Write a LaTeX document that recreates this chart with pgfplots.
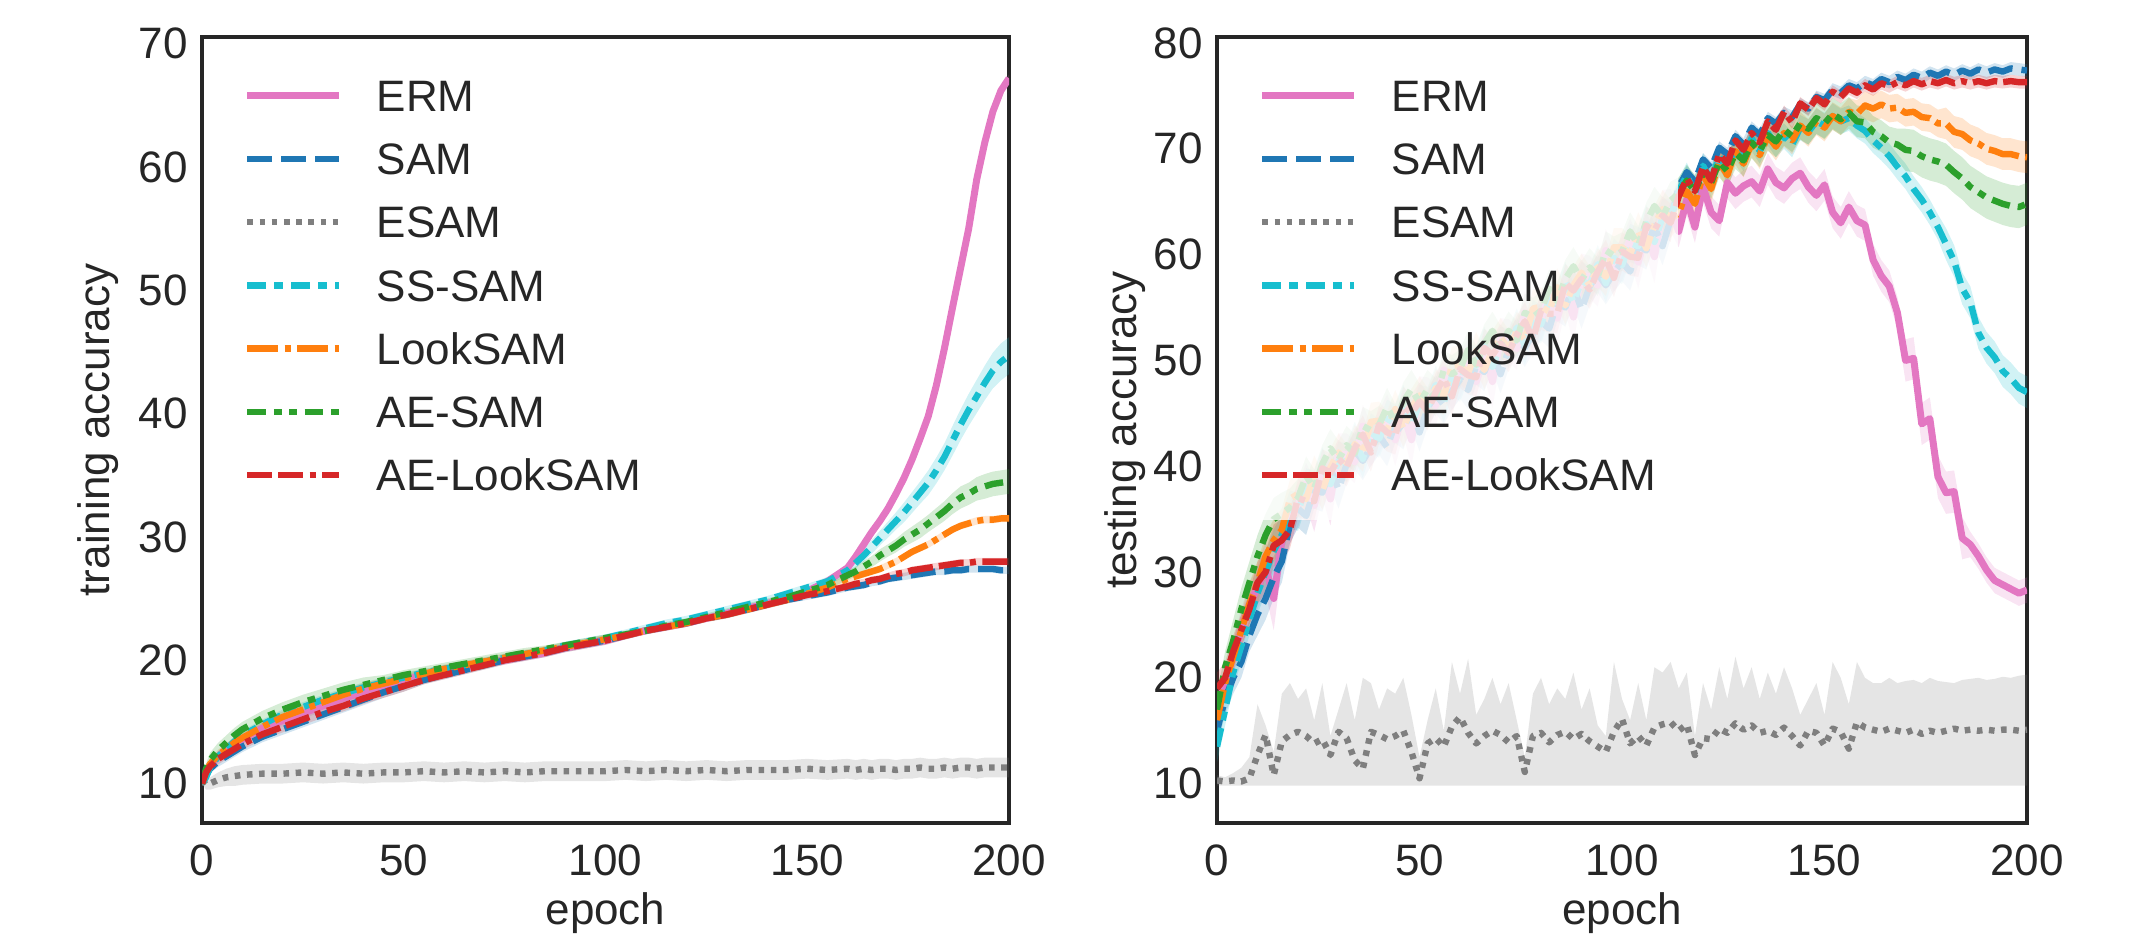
\documentclass[border=0pt]{standalone}
\usepackage{fontspec}
\setmainfont{Liberation Sans}
\usepackage{pgfplots}
\usepackage{pgfplotstable}
\pgfplotsset{compat=1.18}
\usepgfplotslibrary{fillbetween}

\definecolor{cERM}{HTML}{E377C2}
\definecolor{cSAM}{HTML}{1F77B4}
\definecolor{cES}{HTML}{7F7F7F}
\definecolor{cSS}{HTML}{17BECF}
\definecolor{cLook}{HTML}{FF7F0E}
\definecolor{cAES}{HTML}{2CA02C}
\definecolor{cAEL}{HTML}{D62728}
\definecolor{txt}{HTML}{262626}

% training accuracy (mean, std)
\pgfplotstableread{
e sam ael aes ss look erm es d dA dS dE
0 10.0 10.0 10.0 10.0 10.0 10.0 10.3 0.15 0.15 0.15 0.3
1 10.7 10.9 11.2 10.5 11.0 10.9 9.9 0.3 0.4 0.3 0.4
2 11.2 11.4 11.9 11.3 11.6 11.5 10.0 0.35 0.6 0.4 0.5
4 11.8 12.0 12.7 12.2 12.3 12.2 10.3 0.45 0.6 0.4 0.6
6 12.2 12.4 13.3 12.8 12.8 12.7 10.5 0.45 0.6 0.4 0.7
8 12.6 12.8 13.9 13.4 13.3 13.2 10.6 0.45 0.6 0.4 0.8
10 13.0 13.2 14.4 13.9 13.7 13.6 10.7 0.45 0.6 0.4 0.8
15 13.8 14.0 15.3 14.8 14.6 14.5 10.8 0.45 0.6 0.4 0.8
20 14.4 14.6 16.0 15.6 15.4 15.1 10.8 0.45 0.6 0.4 0.8
25 15.0 15.2 16.6 16.2 16.0 15.7 10.9 0.45 0.6 0.4 0.8
30 15.6 15.8 17.1 16.8 16.6 16.3 10.8 0.45 0.6 0.4 0.8
35 16.2 16.3 17.6 17.3 17.2 16.9 10.9 0.45 0.6 0.4 0.8
40 16.8 16.9 18.0 17.8 17.7 17.4 10.8 0.45 0.6 0.4 0.8
45 17.4 17.4 18.4 18.2 18.1 17.9 10.9 0.45 0.4 0.4 0.8
50 17.9 17.9 18.8 18.6 18.5 18.4 10.9 0.45 0.4 0.4 0.8
55 18.4 18.4 19.1 19.0 18.9 18.8 11.0 0.35 0.4 0.3 0.8
60 18.8 18.8 19.4 19.3 19.3 19.1 10.9 0.35 0.4 0.3 0.8
65 19.2 19.2 19.7 19.6 19.6 19.4 11.0 0.35 0.4 0.3 0.8
70 19.6 19.6 20.0 19.9 19.9 19.7 10.9 0.35 0.4 0.3 0.8
75 20.0 20.0 20.3 20.2 20.2 20.0 11.0 0.35 0.4 0.3 0.8
80 20.3 20.3 20.6 20.5 20.5 20.3 10.9 0.35 0.4 0.3 0.8
85 20.6 20.6 20.9 20.8 20.8 20.6 11.0 0.35 0.3 0.3 0.8
90 21.0 21.0 21.2 21.2 21.1 21.0 11.0 0.35 0.3 0.3 0.8
95 21.3 21.3 21.5 21.5 21.4 21.3 11.0 0.35 0.3 0.3 0.8
100 21.6 21.6 21.8 21.8 21.7 21.6 11.0 0.35 0.3 0.3 0.8
105 22.0 22.0 22.1 22.2 22.0 22.0 11.1 0.3 0.3 0.3 0.8
110 22.4 22.4 22.4 22.6 22.4 22.4 11.0 0.3 0.3 0.3 0.8
115 22.7 22.7 22.8 23.0 22.7 22.7 11.1 0.3 0.3 0.3 0.8
120 23.0 23.0 23.1 23.3 23.0 23.0 11.0 0.3 0.3 0.3 0.8
125 23.4 23.4 23.5 23.7 23.4 23.4 11.1 0.3 0.3 0.3 0.8
130 23.7 23.7 23.9 24.1 23.7 23.8 11.0 0.3 0.3 0.3 0.8
135 24.1 24.1 24.3 24.5 24.1 24.2 11.1 0.3 0.3 0.3 0.8
140 24.5 24.5 24.7 24.9 24.5 24.6 11.1 0.3 0.3 0.3 0.8
145 24.9 24.9 25.1 25.4 24.9 25.0 11.1 0.3 0.3 0.3 0.8
150 25.2 25.3 25.6 25.9 25.4 25.6 11.2 0.3 0.3 0.3 0.8
155 25.5 25.6 26.1 26.4 25.9 26.4 11.1 0.3 0.35 0.35 0.8
160 25.9 26.0 26.9 27.3 26.6 27.5 11.2 0.3 0.4 0.4 0.8
162 26.0 26.2 27.2 27.9 26.8 28.4 11.1 0.3 0.4 0.45 0.8
164 26.1 26.3 27.6 28.5 27.0 29.4 11.2 0.3 0.45 0.5 0.8
166 26.3 26.5 28.0 29.2 27.2 30.4 11.1 0.3 0.45 0.55 0.8
168 26.4 26.6 28.5 29.9 27.4 31.3 11.2 0.3 0.5 0.6 0.8
170 26.6 26.8 28.9 30.6 27.7 32.3 11.2 0.3 0.5 0.65 0.8
172 26.7 27.0 29.3 31.3 28.0 33.5 11.1 0.3 0.55 0.7 0.8
174 26.8 27.1 29.8 32.0 28.4 34.8 11.2 0.3 0.6 0.8 0.8
176 26.9 27.3 30.2 32.8 28.8 36.3 11.2 0.3 0.65 0.85 0.8
178 27.0 27.4 30.6 33.6 29.1 38.0 11.3 0.3 0.7 0.9 0.8
180 27.1 27.5 31.1 34.4 29.4 39.8 11.2 0.3 0.7 1.0 0.8
182 27.2 27.6 31.6 35.4 29.8 42.3 11.2 0.3 0.75 1.05 0.8
184 27.2 27.7 32.1 36.5 30.2 45.3 11.3 0.3 0.8 1.1 0.8
186 27.3 27.8 32.7 37.8 30.6 48.6 11.2 0.3 0.85 1.2 0.8
188 27.3 27.9 33.2 39.1 30.9 51.8 11.3 0.3 0.9 1.25 0.8
190 27.4 27.9 33.5 40.3 31.1 55.0 11.3 0.3 0.9 1.3 0.8
192 27.4 28.0 33.9 41.4 31.3 59.0 11.2 0.3 0.95 1.35 0.8
194 27.4 28.0 34.1 42.5 31.4 62.0 11.3 0.3 1.0 1.4 0.8
196 27.4 28.0 34.3 43.5 31.4 64.5 11.3 0.3 1.0 1.45 0.8
198 27.3 28.0 34.4 44.2 31.5 66.2 11.3 0.3 1.0 1.5 0.8
200 27.3 28.0 34.5 44.7 31.5 67.2 11.3 0.3 1.0 1.5 0.8
}\Ltab

% testing accuracy (mean, std)
\pgfplotstableread{
e erm sE sam sB ss sC look sL aes sA ael
0 17.0 1.5 15.0 1.5 13.5 1.5 16.0 1.2 17.0 1.5 19.0
2 19.5 1.5 18.0 1.5 17.0 1.5 19.5 1.5 21.0 1.5 20.0
4 22.0 1.5 20.0 1.5 20.5 1.5 22.0 1.5 23.5 2.0 22.5
6 24.5 2.0 21.5 1.5 23.0 1.5 24.5 1.5 26.5 2.0 24.5
8 27.0 2.0 24.0 1.5 25.5 1.5 27.0 2.0 29.0 2.0 26.5
10 28.5 2.0 26.0 2.0 28.0 2.0 29.0 2.0 31.5 2.0 29.0
12 30.5 2.5 27.5 2.0 30.0 2.0 31.5 2.0 33.5 2.0 30.0
14 27.5 3.0 29.5 2.0 32.0 2.0 33.0 2.0 35.0 2.0 32.5
16 33.0 2.5 31.0 2.0 33.5 2.0 34.0 2.0 35.5 2.0 33.0
18 34.7 2.0 34.5 1.8 35.9 1.8 36.9 1.8 36.1 1.8 34.0
20 36.3 2.0 36.0 1.8 35.7 1.8 37.4 1.8 37.0 1.8 37.0
22 38.3 2.0 35.3 1.8 38.0 1.8 36.9 1.8 39.1 1.8 36.7
24 36.3 2.5 37.8 1.8 37.8 1.8 39.2 1.8 37.9 1.8 36.7
26 39.1 2.0 37.5 1.8 40.0 1.8 37.7 1.8 40.2 1.8 39.8
28 36.9 2.5 39.8 1.8 38.3 1.8 39.9 1.8 41.7 1.8 39.4
30 41.1 2.0 37.8 1.8 40.5 1.8 41.3 1.8 40.6 1.8 40.7
32 41.1 2.0 40.2 1.8 40.4 1.8 40.3 1.8 42.0 1.8 39.9
34 40.4 2.0 41.5 1.8 42.4 1.8 42.1 1.8 41.2 1.8 41.7
36 43.8 2.0 40.5 1.8 40.7 1.8 41.3 1.8 43.8 1.8 43.0
38 42.0 2.0 41.8 1.8 43.2 1.8 44.2 1.8 43.4 1.8 41.3
40 43.2 2.0 42.9 1.8 42.6 1.8 44.3 1.8 43.9 1.8 43.9
42 44.8 2.0 41.8 1.8 44.5 1.8 43.4 1.8 45.6 1.8 43.2
44 42.5 2.5 44.0 1.8 44.0 1.8 45.4 1.8 44.1 1.8 42.9
46 45.0 2.0 43.4 1.8 45.9 1.8 43.6 1.8 46.1 1.8 45.7
48 42.5 2.5 45.4 1.8 43.9 1.8 45.5 1.8 47.3 1.8 45.0
50 46.5 2.0 43.2 1.8 45.9 1.8 46.7 1.8 46.0 1.8 46.1
52 46.4 2.0 45.5 1.8 45.7 1.8 45.6 1.8 47.3 1.8 45.2
54 45.7 2.0 46.8 1.8 47.7 1.8 47.4 1.8 46.5 1.8 47.0
56 49.1 2.0 45.8 1.8 46.0 1.8 46.6 1.8 49.1 1.8 48.3
58 47.3 2.0 47.1 1.8 48.5 1.8 49.5 1.8 48.7 1.8 46.6
60 48.5 2.0 48.2 1.8 47.9 1.8 49.6 1.8 49.2 1.8 49.2
62 50.2 2.0 47.2 1.8 49.9 1.8 48.8 1.8 51.0 1.8 48.6
64 48.0 2.5 49.5 1.8 49.5 1.8 50.9 1.8 49.6 1.8 48.4
66 50.5 2.0 48.9 1.8 51.4 1.8 49.1 1.8 51.6 1.8 51.2
68 48.0 2.5 50.9 1.8 49.4 1.8 51.0 1.8 52.8 1.8 50.5
70 52.0 2.0 48.7 1.8 51.4 1.8 52.2 1.8 51.5 1.8 51.6
72 51.9 2.0 51.0 1.8 51.2 1.8 51.1 1.8 52.8 1.8 50.7
74 51.1 2.0 52.2 1.8 53.1 1.8 52.8 1.8 51.9 1.8 52.4
76 54.5 2.0 51.2 1.8 51.4 1.8 52.0 1.8 54.5 1.8 53.7
78 52.7 2.0 52.5 1.8 53.9 1.8 54.9 1.8 54.1 1.8 52.0
80 54.0 2.0 53.7 1.8 53.4 1.8 55.1 1.8 54.7 1.8 54.7
82 56.0 2.0 53.0 1.8 55.7 1.8 54.6 1.8 56.8 1.8 54.4
84 54.0 2.5 55.5 1.8 55.5 1.8 56.9 1.8 55.6 1.8 54.4
86 56.6 2.0 55.0 1.8 57.5 1.8 55.2 1.8 57.7 1.8 57.3
88 54.1 2.5 57.0 1.8 55.5 1.8 57.1 1.8 58.9 1.8 56.6
90 58.1 2.0 54.8 1.8 57.5 1.8 58.3 1.8 57.6 1.8 57.7
92 57.9 2.0 57.0 1.8 57.2 1.8 57.1 1.8 58.8 1.8 56.7
94 57.1 2.0 58.2 1.8 59.1 1.8 58.8 1.8 57.9 1.8 58.4
96 60.4 2.0 57.1 1.8 57.3 1.8 57.9 1.8 60.4 1.8 59.6
98 58.5 2.0 58.3 1.8 59.7 1.8 60.7 1.8 59.9 1.8 57.8
100 59.6 2.0 59.3 1.8 59.0 1.8 60.7 1.8 60.3 1.8 60.3
102 61.4 2.0 58.4 1.8 61.1 1.8 60.0 1.8 62.2 1.8 59.8
104 59.3 2.5 60.8 1.8 60.8 1.8 62.2 1.8 60.9 1.8 59.7
106 62.0 2.0 60.4 1.8 62.9 1.8 60.6 1.8 63.1 1.8 62.7
108 59.8 2.5 62.7 1.8 61.2 1.8 62.8 1.8 64.6 1.8 62.3
110 64.1 2.0 60.8 1.8 63.5 1.8 64.3 1.8 63.6 1.8 63.7
112 64.2 2.0 63.3 1.8 63.5 1.8 63.4 1.8 65.1 1.8 63.0
114 62.2 1.5 66.4 0.6 66.0 1.2 63.9 1.3 65.8 1.5 65.5
116 65.2 1.5 67.8 0.6 67.5 1.2 66.0 1.3 67.0 1.5 67.2
118 62.6 1.5 66.9 0.6 65.8 1.2 64.8 1.3 66.0 1.5 66.0
120 66.4 1.5 69.0 0.6 68.4 1.2 67.5 1.3 67.8 1.5 68.3
122 64.0 1.5 68.2 0.6 67.0 1.2 66.2 1.3 66.8 1.5 67.0
124 63.2 1.5 70.1 0.6 69.3 1.2 68.8 1.3 68.8 1.5 69.5
126 66.8 1.5 69.5 0.6 68.0 1.2 67.5 1.3 67.9 1.5 68.6
128 65.8 1.5 71.2 0.6 70.2 1.2 69.8 1.3 69.6 1.5 70.8
130 66.5 1.5 70.4 0.6 69.1 1.2 68.6 1.3 68.9 1.5 69.9
132 66.9 1.5 72.0 0.6 71.0 1.2 70.5 1.3 70.6 1.5 71.5
134 66.0 1.5 71.3 0.6 69.8 1.2 69.4 1.3 69.8 1.5 70.6
136 68.1 1.5 72.9 0.6 71.5 1.2 71.2 1.3 71.3 1.5 72.6
138 66.8 1.5 72.4 0.6 70.4 1.2 70.2 1.3 70.7 1.5 71.8
140 66.3 1.5 73.4 0.6 71.2 1.2 71.5 1.3 71.8 1.5 73.5
142 67.2 1.5 73.0 0.6 70.4 1.2 70.8 1.3 71.2 1.5 72.5
144 67.7 1.5 74.2 0.6 72.0 1.2 72.2 1.3 72.4 1.5 74.3
146 66.4 1.5 73.8 0.6 71.6 1.2 71.5 1.3 71.9 1.5 73.7
148 65.6 1.5 74.9 0.6 72.6 1.2 72.6 1.3 72.9 1.5 74.8
150 66.6 1.5 74.6 0.6 72.2 1.2 72.0 1.3 72.4 1.5 74.2
152 64.0 1.5 75.6 0.6 73.1 1.2 73.1 1.3 73.3 1.5 75.4
154 63.0 1.5 75.3 0.6 72.6 1.2 72.6 1.3 72.8 1.5 74.9
156 64.5 1.5 76.0 0.6 72.9 1.2 73.5 1.3 73.4 1.5 75.7
158 63.2 1.5 75.7 0.6 72.2 1.2 73.3 1.3 72.6 1.5 75.3
160 62.8 1.5 76.3 0.6 71.7 1.2 74.1 1.3 72.5 1.5 76.0
162 59.5 1.5 76.0 0.6 70.8 1.2 73.8 1.3 71.6 1.5 75.6
164 58.0 1.5 76.6 0.6 70.1 1.2 74.2 1.3 71.2 1.5 76.2
166 57.0 1.5 76.3 0.6 69.3 1.2 73.8 1.3 70.6 1.5 75.9
168 54.5 1.5 76.8 0.6 68.3 1.2 73.9 1.3 70.4 1.5 76.3
170 50.0 2.0 76.5 0.6 67.4 1.2 73.4 1.3 69.9 2.0 76.0
172 50.2 2.0 77.0 0.6 66.2 1.2 73.5 1.3 69.8 2.0 76.4
174 44.0 2.0 76.7 0.6 65.2 1.2 73.0 1.3 69.3 2.0 76.1
176 44.5 2.0 77.2 0.6 64.0 1.2 72.9 1.3 69.0 2.0 76.4
178 39.0 2.0 76.9 0.6 62.6 1.2 72.4 1.3 68.8 2.0 76.2
180 37.5 2.0 77.3 0.6 61.0 1.5 72.4 1.5 68.5 2.0 76.5
182 37.6 2.0 77.0 0.6 59.4 1.5 71.6 1.5 67.8 2.0 76.2
184 33.2 2.0 77.4 0.6 56.8 1.5 71.4 1.5 67.2 2.0 76.4
186 32.6 1.2 77.1 0.6 55.5 1.5 70.8 1.5 66.4 2.0 76.2
188 31.5 1.2 77.5 0.6 52.6 1.5 70.5 1.5 65.9 2.0 76.4
190 30.2 1.2 77.2 0.6 51.2 1.5 70.0 1.5 65.4 2.0 76.2
192 29.2 1.2 77.5 0.6 50.3 1.5 69.8 1.5 65.1 2.0 76.4
194 28.8 1.2 77.3 0.6 49.0 1.5 69.5 1.5 64.8 2.0 76.3
196 28.4 1.2 77.6 0.6 48.3 1.5 69.5 1.5 64.6 2.0 76.4
198 28.0 1.2 77.5 0.6 47.4 1.5 69.3 1.5 64.5 2.0 76.3
200 28.3 1.2 77.4 0.6 47.0 1.5 69.2 1.5 64.8 2.0 76.3
}\Rtab

% ESAM testing accuracy (mean, band low, band high)
\pgfplotstableread{
e m lo hi
0 10.3 9.8 10.8
2 10.2 9.8 10.6
4 10.3 9.8 11.0
6 10.2 9.8 11.5
8 10.5 9.8 12.5
10 12.7 9.8 17.5
12 14.6 9.8 15.5
14 10.8 9.8 13.0
16 14.0 9.8 18.5
18 14.6 9.8 19.5
20 14.9 9.8 18.0
22 14.5 9.8 19.0
24 13.8 9.8 16.0
26 14.2 9.8 19.5
28 12.7 9.8 14.5
30 14.9 9.8 17.0
32 14.3 9.8 19.5
34 12.2 9.8 16.0
36 11.4 9.8 20.0
38 14.9 9.8 19.5
40 14.6 9.8 17.0
42 14.2 9.8 19.0
44 14.5 9.8 18.5
46 15.0 9.8 20.0
48 13.0 9.8 16.5
50 10.5 9.8 12.5
52 13.8 9.8 16.0
54 14.3 9.8 19.0
56 13.5 9.8 15.0
58 15.4 9.8 21.5
60 16.3 9.8 18.5
62 14.8 9.8 21.8
64 13.8 9.8 16.5
66 14.5 9.8 18.0
68 15.0 9.8 20.0
70 14.6 9.8 17.5
72 13.9 9.8 19.5
74 14.5 9.8 16.0
76 11.1 9.8 12.5
78 14.5 9.8 18.5
80 14.8 9.8 20.0
82 13.9 9.8 17.5
84 14.6 9.8 19.0
86 14.9 9.8 18.0
88 14.2 9.8 20.5
90 14.7 9.8 17.0
92 14.0 9.8 19.0
94 13.5 9.8 15.5
96 13.0 9.8 14.5
98 14.9 9.8 21.5
100 16.1 9.8 18.0
102 13.8 9.8 16.0
104 14.5 9.8 19.5
106 13.6 9.8 16.0
108 15.3 9.8 21.0
110 15.6 9.8 20.5
112 15.8 9.8 21.5
114 15.0 9.8 19.0
116 15.6 9.8 20.5
118 12.7 9.8 14.5
120 14.3 9.8 19.5
122 14.2 9.8 17.0
124 15.2 9.8 21.0
126 14.8 9.8 18.0
128 15.7 9.8 22.0
130 15.1 9.8 19.0
132 15.5 9.8 21.0
134 14.8 9.8 18.0
136 15.0 9.8 20.5
138 14.6 9.8 18.5
140 15.3 9.8 21.0
142 14.5 9.8 19.0
144 13.6 9.8 16.5
146 15.0 9.8 18.0
148 14.8 9.8 19.5
150 13.6 9.8 16.5
152 15.2 9.8 21.5
154 14.9 9.8 20.0
156 13.3 9.8 17.5
158 15.8 9.8 21.5
160 15.3 9.8 20.0
162 15.1 9.8 19.5
164 14.9 9.8 19.5
166 15.2 9.8 20.0
168 15.0 9.8 19.5
170 14.8 9.8 19.7
172 15.1 9.8 19.8
174 14.7 9.8 19.5
176 15.0 9.8 20.0
178 14.8 9.8 19.7
180 15.0 9.8 19.6
182 15.2 9.8 19.5
184 15.0 9.8 19.8
186 15.1 9.8 19.9
188 15.0 9.8 20.0
190 15.1 9.8 19.8
192 15.0 9.8 19.9
194 15.1 9.8 20.1
196 15.1 9.8 20.0
198 15.0 9.8 20.2
200 15.1 9.8 20.3
}\Resam

% mean +- std band
\newcommand\band[4]{%
  \addplot[draw=none, name path=#2u, forget plot] table[x=e, y expr=\thisrow{#2}+\thisrow{#3}] {#1};
  \addplot[draw=none, name path=#2l, forget plot] table[x=e, y expr=\thisrow{#2}-\thisrow{#3}] {#1};
  \addplot[fill=#4, fill opacity=0.2, draw=none, forget plot] fill between[of=#2u and #2l];
}

\pgfplotsset{
  acc/.style={
    scale only axis, height=196.5pt,
    xmin=0, xmax=200, xtick={0,50,100,150,200},
    axis line style={draw=txt, line width=0.9pt},
    tick style={draw=none},
    /pgf/number format/assume math mode=true,
    xticklabel style={yshift=-1.8pt},
    xlabel={epoch},
    xlabel style={at={(axis description cs:0.5,-0.1288)}, anchor=base},
    legend cell align=left,
    legend image code/.code={\draw[#1] plot coordinates {(0pt,0pt) (23pt,0pt)};},
    legend style={at={(axis description cs:0,1)}, anchor=north west,
      xshift=4.75pt, yshift=-3.25pt, draw=none, fill=white, fill opacity=0.8,
      text opacity=1, inner xsep=5.5pt, inner ysep=6.2pt, row sep=5.7pt,
      nodes={inner sep=0pt, text height=9pt, text depth=1.1pt},
      /tikz/every odd column/.append style={column sep=8.5pt}},
    every axis plot/.append style={line width=1.6pt, line join=round},
  },
  sERM/.style={cERM, solid, line width=1.75pt},
  sSAM/.style={cSAM, dash pattern=on 6.25pt off 2.25pt},
  sES/.style={cES, dash pattern=on 1.4pt off 1.65pt},
  sSS/.style={cSS, dash pattern=on 4.75pt off 2pt on 2.25pt off 2pt},
  sLook/.style={cLook, dash pattern=on 7.75pt off 1.6pt on 1.5pt off 1.6pt},
  sAES/.style={cAES, dash pattern=on 4.65pt off 2pt on 1.9pt off 1.9pt on 1.9pt off 2pt},
  sAEL/.style={cAEL, dash pattern=on 6.25pt off 1.5pt on 6.25pt off 1.6pt on 1.5pt off 1.6pt},
}

\begin{document}
\begin{tikzpicture}[font=\fontsize{11}{13}\selectfont, text=txt]

\begin{axis}[acc, at={(0pt,0pt)}, anchor=south west, width=201.75pt,
  ymin=6.8, ymax=70.55, ytick={10,20,30,40,50,60,70},
  ylabel={training accuracy},
  ylabel style={at={(axis description cs:-0.1143,0.5)}, anchor=base}]
\band{\Ltab}{erm}{d}{cERM}
\addplot[sERM] table[x=e, y=erm] {\Ltab}; \addlegendentry{ERM}
\band{\Ltab}{sam}{d}{cSAM}
\addplot[sSAM] table[x=e, y=sam] {\Ltab}; \addlegendentry{SAM}
\band{\Ltab}{es}{dE}{cES}
\addplot[sES] table[x=e, y=es] {\Ltab}; \addlegendentry{ESAM}
\band{\Ltab}{ss}{dS}{cSS}
\addplot[sSS] table[x=e, y=ss] {\Ltab}; \addlegendentry{SS-SAM}
\band{\Ltab}{look}{d}{cLook}
\addplot[sLook] table[x=e, y=look] {\Ltab}; \addlegendentry{LookSAM}
\band{\Ltab}{aes}{dA}{cAES}
\addplot[sAES] table[x=e, y=aes] {\Ltab}; \addlegendentry{AE-SAM}
\band{\Ltab}{ael}{d}{cAEL}
\addplot[sAEL] table[x=e, y=ael] {\Ltab}; \addlegendentry{AE-LookSAM}
\end{axis}

\begin{axis}[acc, at={(253.75pt,0pt)}, anchor=south west, width=202.5pt,
  ymin=6.28, ymax=80.57, ytick={10,20,30,40,50,60,70,80},
  ylabel={testing accuracy},
  ylabel style={at={(axis description cs:-0.0998,0.5)}, anchor=base}]
\band{\Rtab}{erm}{sE}{cERM}
\addplot[sERM] table[x=e, y=erm] {\Rtab}; \addlegendentry{ERM}
\band{\Rtab}{sam}{sB}{cSAM}
\addplot[sSAM] table[x=e, y=sam] {\Rtab}; \addlegendentry{SAM}
\addplot[draw=none, name path=esu, forget plot] table[x=e, y=hi] {\Resam};
\addplot[draw=none, name path=esl, forget plot] table[x=e, y=lo] {\Resam};
\addplot[fill=cES, fill opacity=0.2, draw=none, forget plot] fill between[of=esu and esl];
\addplot[sES] table[x=e, y=m] {\Resam}; \addlegendentry{ESAM}
\band{\Rtab}{ss}{sC}{cSS}
\addplot[sSS] table[x=e, y=ss] {\Rtab}; \addlegendentry{SS-SAM}
\band{\Rtab}{look}{sL}{cLook}
\addplot[sLook] table[x=e, y=look] {\Rtab}; \addlegendentry{LookSAM}
\band{\Rtab}{aes}{sA}{cAES}
\addplot[sAES] table[x=e, y=aes] {\Rtab}; \addlegendentry{AE-SAM}
\band{\Rtab}{ael}{sB}{cAEL}
\addplot[sAEL] table[x=e, y=ael] {\Rtab}; \addlegendentry{AE-LookSAM}
\end{axis}

\pgfresetboundingbox
\useasboundingbox (-50.5pt,-28.5pt) rectangle (483.75pt,205.75pt);
\end{tikzpicture}
\end{document}
